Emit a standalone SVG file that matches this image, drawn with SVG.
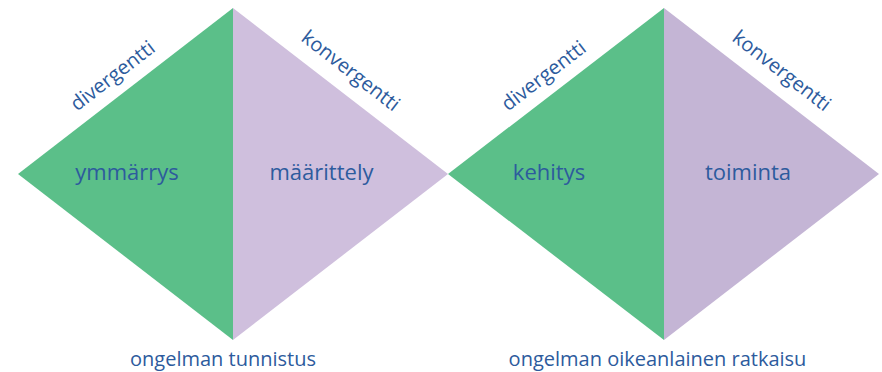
<svg xmlns="http://www.w3.org/2000/svg" width="882" height="372" viewBox="0 0 882 372">
<style>
text{font-family:"Open Sans","Noto Sans","Liberation Sans",sans-serif;fill:#2d5b9d;text-anchor:middle}
.big{font-size:22px}
.diag{font-size:20px}
.bot{font-size:20px}
</style>
<rect width="882" height="372" fill="#ffffff"/>
<g id="diamond1">
<polygon points="233,8 18,174 233,340" fill="#5bbf89"/>
<polygon points="233,8 448,174 233,340" fill="#cfbfdd"/>
<text class="big" x="127" y="180">ymmärrys</text>
<text class="big" x="321.5" y="180">määrittely</text>
<text class="diag" transform="translate(116.7,81.1) rotate(-37.7)">divergentti</text>
<text class="diag" transform="translate(346.6,76.1) rotate(37.7)">konvergentti</text>
<text class="bot" x="223" y="366">ongelman tunnistus</text>
</g>
<g id="diamond2">
<polygon points="664,8 448,174 664,340" fill="#5bbf89"/>
<polygon points="664,8 879,174 664,340" fill="#c4b5d5"/>
<text class="big" x="549" y="180">kehitys</text>
<text class="big" x="748" y="180">toiminta</text>
<text class="diag" transform="translate(547.7,81.1) rotate(-37.7)">divergentti</text>
<text class="diag" transform="translate(777.6,76.1) rotate(37.7)">konvergentti</text>
<text class="bot" x="657.5" y="366">ongelman oikeanlainen ratkaisu</text>
</g>
<g id="connectors"></g>
</svg>
